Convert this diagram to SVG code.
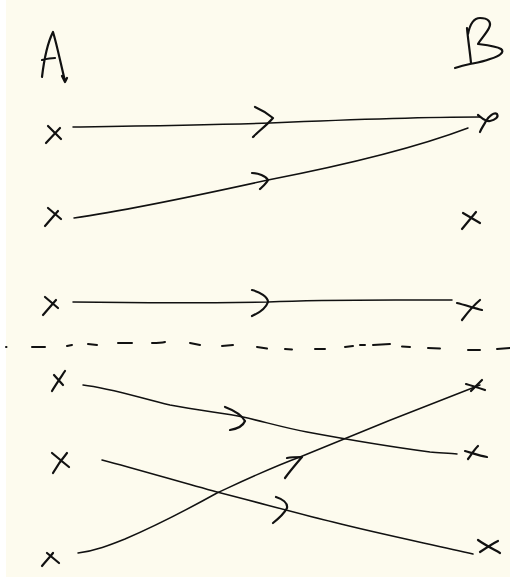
<svg xmlns="http://www.w3.org/2000/svg" width="510" height="578" viewBox="0 0 510 578">
<style>
.ink{fill:none;stroke:#111;stroke-linecap:round;stroke-linejoin:round}
.m{stroke-width:2.2}
.l{stroke-width:1.5}
.d{stroke-width:2}
</style>
<rect x="0" y="0" width="510" height="578" fill="#ffffff"/>
<rect x="6" y="0" width="504" height="577" fill="#fdfbee"/>
<g id="labelA"><path class="ink m" d="M42,77 C44,60 48,42 53,32 C57,45 61,65 65,81 M62,76 L65,82 L67,78 M42,60 C46,59 51,58 55,58"/></g>
<g id="labelB"><path class="ink m" d="M467,28 C468,40 470,52 471,63 M468,34 C470,24 474,18 480,18 C488,18 492,22 489,28 C486,34 480,40 478,44 C486,45 496,46 501,49 C505,52 500,56 490,59 C482,62 475,63 470,64 C465,65 458,67 455,68"/></g>
<g id="a1"><path class="ink m" d="M48,126 L61,139 M46,143 L60,128"/></g>
<g id="a2"><path class="ink m" d="M48,208 L61,219 M45,226 L58,211"/></g>
<g id="a3"><path class="ink m" d="M45,297 L58,308 M43,315 L56,300"/></g>
<g id="a4"><path class="ink m" d="M52,391 C56,384 61,377 65,371 M54,375 L63,385"/></g>
<g id="a5"><path class="ink m" d="M53,473 C57,466 62,459 67,453 M52,453 C58,458 64,463 69,467"/></g>
<g id="a6"><path class="ink m" d="M42,566 C46,561 50,557 53,553 M47,553 L59,563"/></g>
<g id="b1"><path class="ink m" d="M478,115 C482,118 486,122 490,121 C495,120 499,117 497,114 C494,112 489,116 486,121 C484,125 481,129 480,132"/></g>
<g id="b2"><path class="ink m" d="M463,213 L480,223 M462,229 L476,212"/></g>
<g id="b3"><path class="ink m" d="M457,303 C465,305 474,308 482,310 M462,320 C468,312 474,305 480,300"/></g>
<g id="b4"><path class="ink m" d="M466,384 C473,386 479,388 485,390 M471,391 C475,387 479,383 482,380"/></g>
<g id="b5"><path class="ink m" d="M468,459 C471,455 474,450 478,446 M465,451 C472,453 480,456 487,457"/></g>
<g id="b6"><path class="ink m" d="M478,540 C485,545 493,549 500,553 M480,552 C486,548 492,544 498,541"/></g>
<g id="connectors">
<path class="ink l" d="M73,127 C140,126 210,125 270,123 C340,120 420,117 480,117"/>
<path class="ink m" d="M255,107 C262,110 268,114 273,118 C268,124 259,131 253,137"/>
<path class="ink l" d="M74,218 C130,210 200,195 268,180 C340,166 410,150 468,128"/>
<path class="ink m" d="M252,173 C258,173 266,176 268,180 C266,184 262,187 260,189"/>
<path class="ink l" d="M73,302 C140,303 210,303 268,302 C330,299 400,300 452,300"/>
<path class="ink m" d="M252,290 C260,292 268,297 268,302 C266,308 259,313 252,316"/>
<path class="ink l" d="M83,385 C110,388 140,398 170,405 C200,411 225,413 243,417 C265,422 285,428 307,432 C350,440 400,448 430,452 C440,453 450,453 457,454"/>
<path class="ink m" d="M225,407 C233,410 241,414 245,421 C243,426 236,429 230,430"/>
<path class="ink l" d="M102,460 C140,470 180,482 217,492 C260,503 300,514 333,522 C380,534 430,544 473,554"/>
<path class="ink m" d="M276,497 C282,499 288,503 287,508 C284,514 278,519 273,523"/>
<path class="ink l" d="M78,553 C95,551 110,545 125,539 C160,524 190,508 217,493 C245,480 270,468 300,457 C360,432 420,408 480,385"/>
<path class="ink m" d="M287,458 C292,457 298,457 302,457 C296,464 290,471 285,478"/>
</g>
<g id="divider">
<path class="ink d" d="M6,347 L6.5,347 M32,347 L45,347 M67,346 L72,345 M88,344 L97,345 M118,343 L132,343 M152,343 C157,343 161,343 165,342 M190,343 L200,345 M222,346 L233,345 M257,347 L267,348.5 M285,349 L292,349.5 M315,349 L325,349 M345,347 L353,346 M360,345 L365,345 M373,345 L390,344 M402,346.5 L410,347 M428,348 L440,348.5 M468,350 L480,350 M497,349 L510,348"/>
</g>
</svg>
